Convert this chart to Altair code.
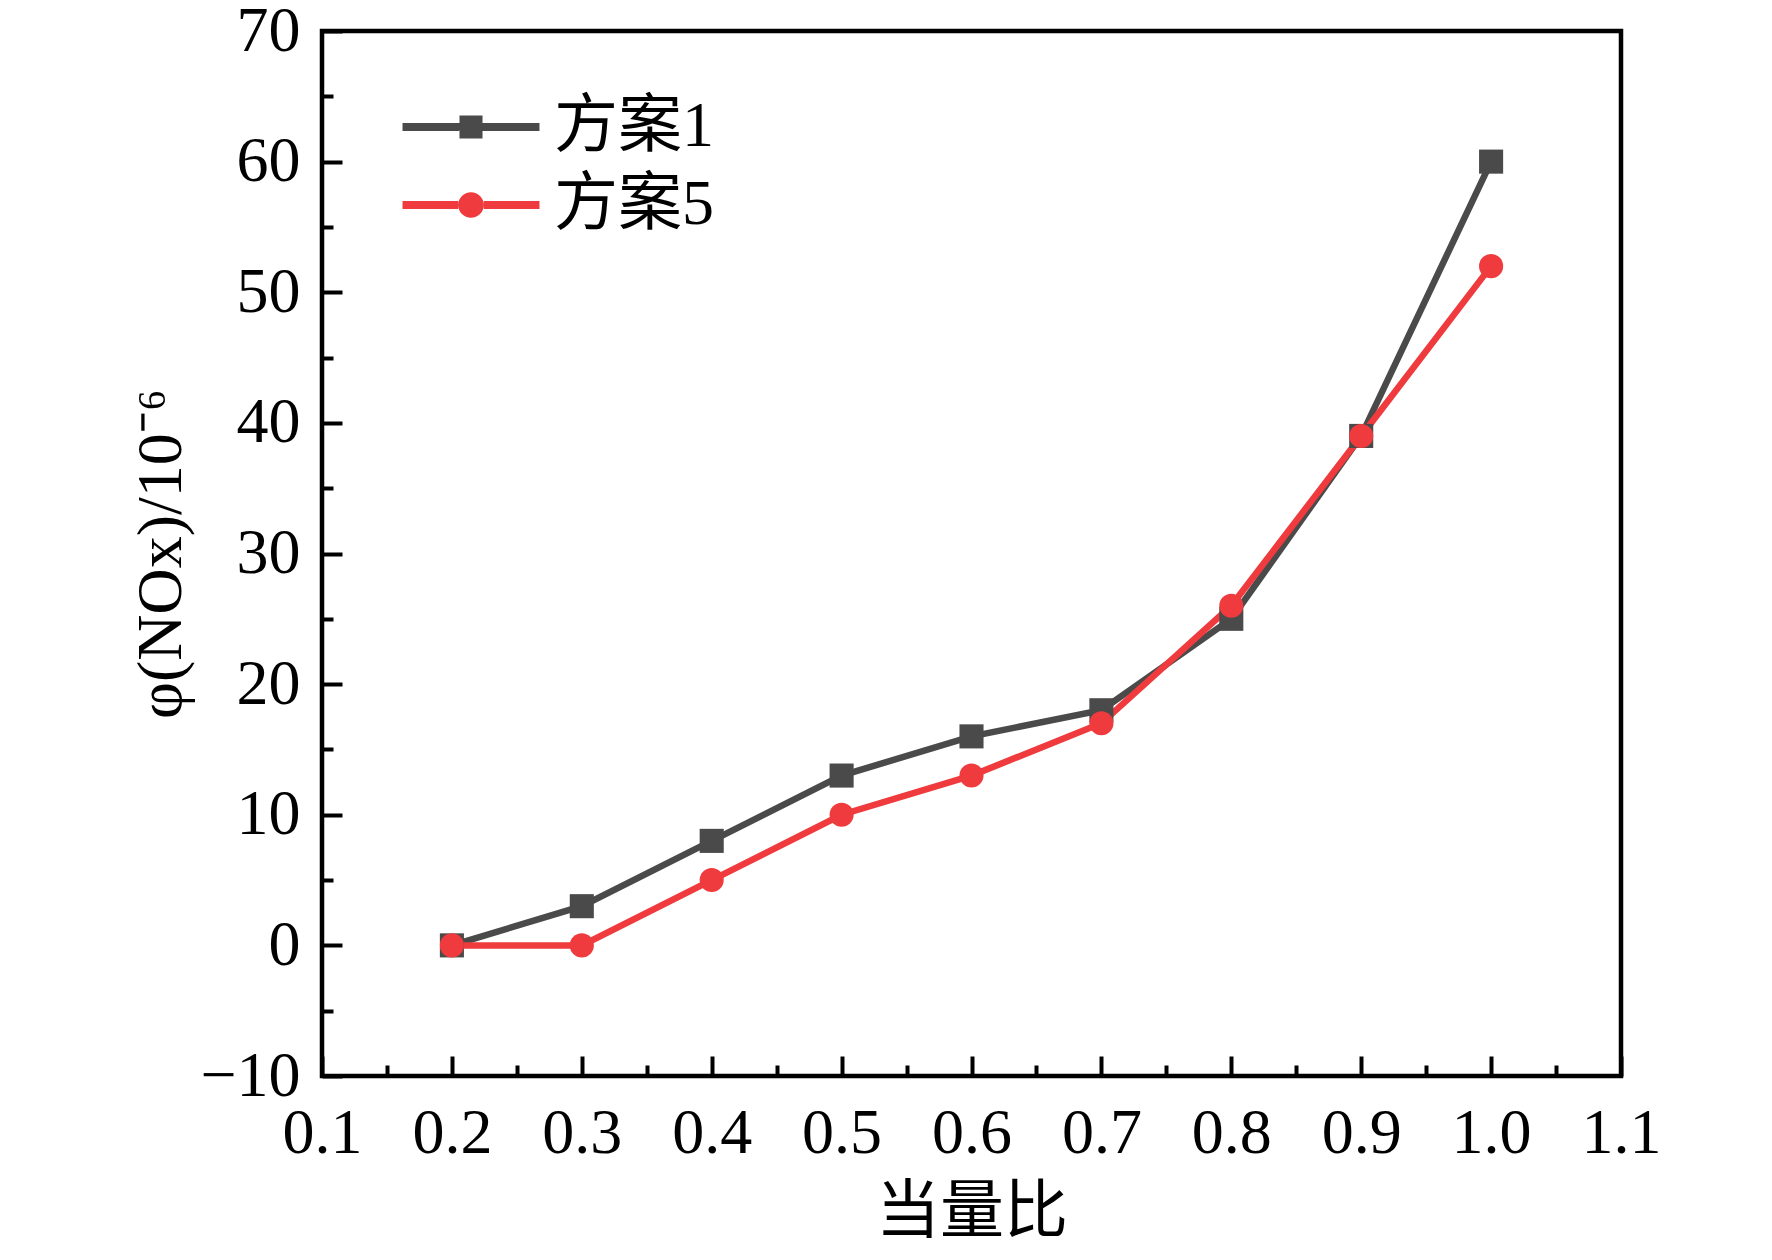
import altair as alt
import pandas as pd

# ---- data ----
ratio = [0.2, 0.3, 0.4, 0.5, 0.6, 0.7, 0.8, 0.9, 1.0]
scheme1 = [0, 3, 8, 13, 16, 18, 25, 39, 60]
scheme5 = [0, 0, 5, 10, 13, 17, 26, 39, 52]
series_names = ["方案1", "方案5"]
series_colors = ["#4a4a4a", "#ef3b3d"]
x_ticks = [0.1, 0.2, 0.3, 0.4, 0.5, 0.6, 0.7, 0.8, 0.9, 1.0, 1.1]
x_minor = [0.15, 0.25, 0.35, 0.45, 0.55, 0.65, 0.75, 0.85, 0.95, 1.05]
y_ticks = [-10, 0, 10, 20, 30, 40, 50, 60, 70]
y_minor = [-5, 5, 15, 25, 35, 45, 55, 65]

rows = []
for name, vals in zip(series_names, [scheme1, scheme5]):
    for r, v in zip(ratio, vals):
        rows.append({"ratio": r, "nox": v, "series": name})
df = pd.DataFrame(rows)

FONT = "Liberation Serif, Noto Sans CJK SC"
FS = 64
MAJ = 20
MIN = 11
TW = 4

xscale = alt.Scale(domain=[0.1, 1.1], nice=False, zero=False)
yscale = alt.Scale(domain=[-10, 70], nice=False, zero=False)
cscale = alt.Scale(domain=series_names, range=series_colors)

main_x = alt.Axis(values=x_ticks, format=".1f", orient="bottom", offset=-MAJ,
                  tickSize=MAJ, tickWidth=TW, tickColor="black", domain=False,
                  grid=False, labelFont=FONT, labelFontSize=FS, labelColor="black",
                  labelPadding=25, labelFlush=False, labelOverlap=False,
                  title="当量比", titleFont=FONT, titleFontSize=FS,
                  titleFontWeight="normal", titleColor="black", titlePadding=15)
main_y = alt.Axis(values=y_ticks, format="d", orient="left", offset=-MAJ,
                  tickSize=MAJ, tickWidth=TW, tickColor="black", domain=False,
                  grid=False, labelFont=FONT, labelFontSize=FS, labelColor="black",
                  labelPadding=22, labelFlush=False, labelOverlap=False,
                  title="φ(NOx)/10⁻⁶", titleFont=FONT, titleFontSize=FS,
                  titleFontWeight="normal", titleColor="black", titlePadding=6)
minor_x = alt.Axis(values=x_minor, orient="bottom", offset=-MIN, tickSize=MIN,
                   tickWidth=TW, tickColor="black", domain=False, grid=False,
                   labels=False, title=None)
minor_y = alt.Axis(values=y_minor, orient="left", offset=-MIN, tickSize=MIN,
                   tickWidth=TW, tickColor="black", domain=False, grid=False,
                   labels=False, title=None)

base = alt.Chart(df)

lines = base.mark_line(strokeWidth=6.5).encode(
    x=alt.X("ratio:Q", scale=xscale, axis=main_x),
    y=alt.Y("nox:Q", scale=yscale, axis=main_y),
    color=alt.Color("series:N", scale=cscale, legend=None),
    detail="series:N",
)

points = base.mark_point(filled=True, opacity=1, size=580).encode(
    x=alt.X("ratio:Q", scale=xscale, axis=minor_x),
    y=alt.Y("nox:Q", scale=yscale, axis=minor_y),
    color=alt.Color("series:N", scale=cscale, legend=None),
    shape=alt.Shape("series:N",
                    scale=alt.Scale(domain=series_names, range=["square", "circle"]),
                    legend=None),
)

# legend symbols: line + marker drawn as custom paths (1 unit = 32 px)
L = 2.14   # half length of the legend line
t = 0.125  # half thickness of the legend line
sq = 0.36  # half side of the square
r = 0.40   # circle radius
path_sq = (f"M-{L},-{t}H-{sq}V{t}H-{L}Z M{sq},-{t}H{L}V{t}H{sq}Z "
           f"M-{sq},-{sq}H{sq}V{sq}H-{sq}Z")
path_ci = (f"M-{L},-{t}H-{r}V{t}H-{L}Z M{r},-{t}H{L}V{t}H{r}Z "
           f"M-{r},0A{r},{r} 0 1,1 {r},0A{r},{r} 0 1,1 -{r},0Z")

leg = alt.Legend(orient="none", legendX=117, legendY=64, title=None,
                 symbolSize=64 * 64, symbolStrokeWidth=0,
                 labelFont=FONT, labelFontSize=FS, labelColor="black",
                 labelOffset=51, rowPadding=14, padding=0, labelLimit=400)

legend_layer = base.transform_filter("false").mark_point(filled=True, opacity=1).encode(
    x=alt.X("ratio:Q", scale=xscale, axis=None),
    y=alt.Y("nox:Q", scale=yscale, axis=None),
    color=alt.Color("series:N", scale=cscale, legend=leg),
    shape=alt.Shape("series:N",
                    scale=alt.Scale(domain=series_names, range=[path_sq, path_ci]),
                    legend=leg),
)

chart = alt.layer(lines, points, legend_layer).resolve_scale(
    color="independent", shape="independent"
).resolve_axis(
    x="independent", y="independent"
).properties(
    width=1299, height=1045,
    autosize=alt.AutoSizeParams(type="none"),
    padding={"left": 314, "top": 23, "right": 120, "bottom": 170},
    background="white",
).configure_view(stroke="black", strokeWidth=4.5)

chart.save("out.html", embed_options={"renderer": "svg", "actions": False})
